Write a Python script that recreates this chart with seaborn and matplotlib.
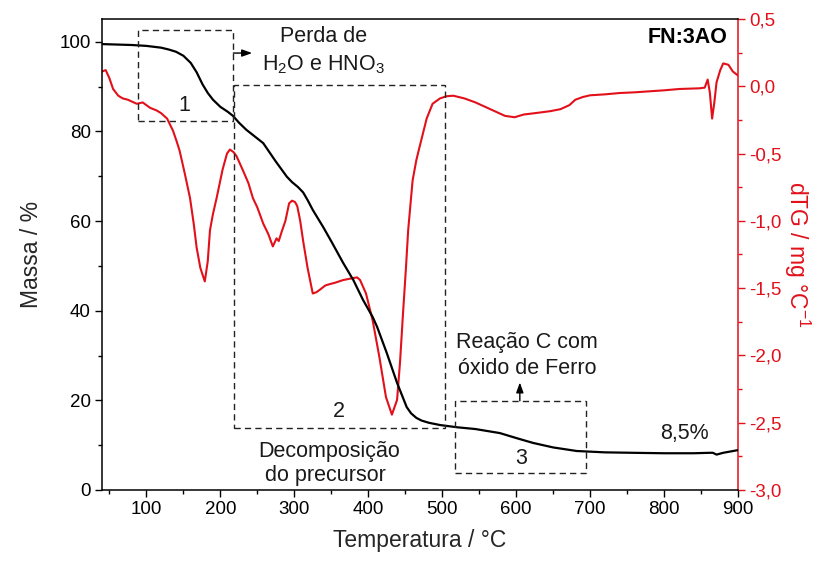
import matplotlib
matplotlib.use("Agg")
import matplotlib.pyplot as plt
from matplotlib.patches import Rectangle
from matplotlib.ticker import MultipleLocator
import numpy as np
import pandas as pd
import seaborn as sns

# Thermogravimetric curve (mass %) vs temperature
tg_temp = [40, 60, 80, 100, 120, 130, 140, 150, 160, 168, 176, 183, 190, 200,
           210, 217, 225, 235, 258, 275, 290, 297, 305, 312, 318, 325, 339,
           350, 366, 380, 393, 406, 412, 425, 439, 452, 458, 465, 472, 482,
           497, 520, 545, 578, 600, 623, 650, 682, 720, 758, 800, 840, 862,
           866, 871, 880, 890, 900]
tg_mass = [99.5, 99.4, 99.3, 99.1, 98.7, 98.3, 97.8, 96.9, 95.3, 93.2, 90.5,
           88.6, 87.1, 85.5, 84.4, 83.5, 82.0, 80.4, 77.4, 73.3, 69.9, 68.7,
           67.6, 66.4, 64.7, 62.5, 58.7, 55.5, 50.7, 46.8, 42.4, 38.6, 36.4,
           30.6, 23.9, 18.5, 17.1, 16.1, 15.5, 15.0, 14.5, 14.0, 13.6, 12.7,
           11.6, 10.5, 9.5, 8.7, 8.4, 8.3, 8.2, 8.2, 8.3, 8.3, 7.9, 8.3, 8.6,
           8.9]

# Derivative curve (dTG) vs temperature
dtg_temp = [40, 45, 50, 55, 62, 68, 75, 87, 95, 105, 114, 120, 128, 136, 141,
            145, 152, 159, 164, 168, 173, 179, 183, 186, 190, 195, 203, 209,
            213, 218, 222, 231, 238, 244, 250, 258, 265, 271, 276, 279, 283,
            288, 293, 297, 301, 304, 308, 312, 318, 325, 330, 335, 342, 348,
            355, 366, 375, 385, 389, 397, 406, 415, 424, 432, 439, 443, 447,
            451, 454, 460, 465, 469, 479, 487, 497, 506, 515, 530, 545, 565,
            585, 598, 610, 625, 646, 660, 672, 680, 690, 700, 720, 740, 760,
            781, 800, 821, 848, 855, 859, 862, 865, 868, 871, 876, 880, 887,
            893, 900]
dtg_val = [0.11, 0.12, 0.06, -0.02, -0.07, -0.09, -0.10, -0.13, -0.12, -0.16,
           -0.18, -0.20, -0.24, -0.33, -0.41, -0.48, -0.65, -0.83, -1.02,
           -1.20, -1.35, -1.45, -1.30, -1.07, -0.95, -0.83, -0.62, -0.50,
           -0.47, -0.49, -0.52, -0.63, -0.72, -0.83, -0.90, -1.02, -1.10,
           -1.19, -1.13, -1.15, -1.08, -1.00, -0.87, -0.85, -0.86, -0.89,
           -1.00, -1.15, -1.35, -1.54, -1.53, -1.51, -1.48, -1.47, -1.46,
           -1.44, -1.43, -1.42, -1.44, -1.54, -1.74, -2.01, -2.31, -2.44,
           -2.33, -2.05, -1.69, -1.35, -1.07, -0.70, -0.55, -0.46, -0.24,
           -0.13, -0.09, -0.074, -0.07, -0.09, -0.12, -0.17, -0.22, -0.23,
           -0.21, -0.20, -0.185, -0.17, -0.14, -0.10, -0.08, -0.067, -0.06,
           -0.05, -0.045, -0.037, -0.03, -0.02, -0.015, -0.01, 0.05, -0.05,
           -0.24, -0.12, 0.03, 0.12, 0.17, 0.16, 0.11, 0.08]

x_ticks = [100, 200, 300, 400, 500, 600, 700, 800, 900]
mass_ticks = [0, 20, 40, 60, 80, 100]
dtg_ticks = [-3.0, -2.5, -2.0, -1.5, -1.0, -0.5, 0.0, 0.5]
dtg_tick_labels = ["-3,0", "-2,5", "-2,0", "-1,5", "-1,0", "-0,5", "0,0", "0,5"]

RED = "#e2101a"

sns.set_theme(style="white")
plt.rcParams["font.family"] = ["Liberation Sans", "DejaVu Sans"]
plt.rcParams["mathtext.fontset"] = "custom"
plt.rcParams["mathtext.rm"] = "Liberation Sans"
plt.rcParams["mathtext.it"] = "Liberation Sans"

tg = pd.DataFrame({"Temperatura": tg_temp, "Massa": tg_mass})
dtg = pd.DataFrame({"Temperatura": dtg_temp, "dTG": dtg_val})

fig = plt.figure(figsize=(8.3, 5.68), dpi=100)
ax = fig.add_axes([102 / 830, 1 - 490 / 568, 636 / 830, 471 / 568])
ax2 = ax.twinx()

sns.lineplot(data=dtg, x="Temperatura", y="dTG", ax=ax2, color=RED, lw=1.5)
sns.lineplot(data=tg, x="Temperatura", y="Massa", ax=ax, color="black", lw=1.6)

# keep the mass curve and annotations above the dTG curve
ax.set_zorder(ax2.get_zorder() + 1)
ax.patch.set_visible(False)

ax.set_xlim(40, 900)
ax.set_ylim(0, 105.1)
ax2.set_ylim(-3.0, 0.5)

ax.set_xticks(x_ticks)
ax.xaxis.set_minor_locator(MultipleLocator(50))
ax.set_yticks(mass_ticks)
ax.yaxis.set_minor_locator(MultipleLocator(10))
ax2.set_yticks(dtg_ticks)
ax2.set_yticklabels(dtg_tick_labels)
ax2.yaxis.set_minor_locator(MultipleLocator(0.25))

ax.tick_params(axis="both", which="major", direction="out", length=5,
               width=1.0, labelsize=13.5, colors="black", pad=3)
ax.tick_params(axis="both", which="minor", direction="out", length=3,
               width=1.0, colors="black")
ax.tick_params(axis="x", which="both", bottom=True)
ax.tick_params(axis="y", which="both", left=True, right=False)
ax2.tick_params(axis="y", which="major", direction="out", length=5,
                width=1.0, labelsize=13.5, colors=RED, pad=3)
ax2.tick_params(axis="y", which="minor", direction="out", length=3,
                width=1.0, colors=RED)

for name in ["left", "bottom", "top"]:
    ax.spines[name].set_color("black")
    ax.spines[name].set_linewidth(1.1)
ax.spines["right"].set_visible(False)
for name in ["left", "bottom", "top"]:
    ax2.spines[name].set_visible(False)
ax2.spines["right"].set_color(RED)
ax2.spines["right"].set_linewidth(1.1)

ax.set_xlabel("Temperatura / °C", fontsize=16.5, labelpad=8)
ax.set_ylabel("Massa / %", fontsize=16.5, labelpad=12)
ax2.set_ylabel("dTG / mg °C$^{-1}$", fontsize=16.5, color=RED,
               rotation=270, labelpad=22)

# dashed boxes marking the decomposition stages
box_style = dict(fill=False, edgecolor="#222222", lw=1.0,
                 linestyle=(0, (4.5, 3)), zorder=3)
ax.add_patch(Rectangle((88.7, 82.4), 217.6 - 88.7, 102.7 - 82.4, **box_style))
ax.add_patch(Rectangle((218.8, 13.8), 503.8 - 218.8, 90.4 - 13.8, **box_style))
ax.add_patch(Rectangle((518, 3.9), 694.5 - 518, 19.9 - 3.9, **box_style))

arrow = dict(arrowstyle="-|>,head_length=0.5,head_width=0.18", color="black",
             lw=1.0, shrinkA=0, shrinkB=0)
ax.annotate("", xy=(243, 97.5), xytext=(217.6, 97.5), arrowprops=arrow)
ax.annotate("", xy=(605, 24.0), xytext=(605, 19.9), arrowprops=arrow)

txt = dict(fontsize=15.5, color="#1a1a1a", ha="center", va="center")
ax.text(339, 101.3, "Perda de", **txt)
ax.text(339, 95.0, "H$_2$O e HNO$_3$", **txt)
ax.text(151, 85.9, "1", **txt)
ax.text(360.5, 17.6, "2", **txt)
ax.text(347, 8.6, "Decomposição", **txt)
ax.text(342, 3.3, "do precursor", **txt)
ax.text(615, 33.0, "Reação C com", **txt)
ax.text(615, 27.2, "óxido de Ferro", **txt)
ax.text(606.6, 7.1, "3", **txt)
ax.text(827, 12.7, "8,5%", **txt)
ax.text(886, 101.0, "FN:3AO", fontsize=15.5, fontweight="bold",
        color="black", ha="right", va="center")

fig.savefig("out.png", dpi=100)
